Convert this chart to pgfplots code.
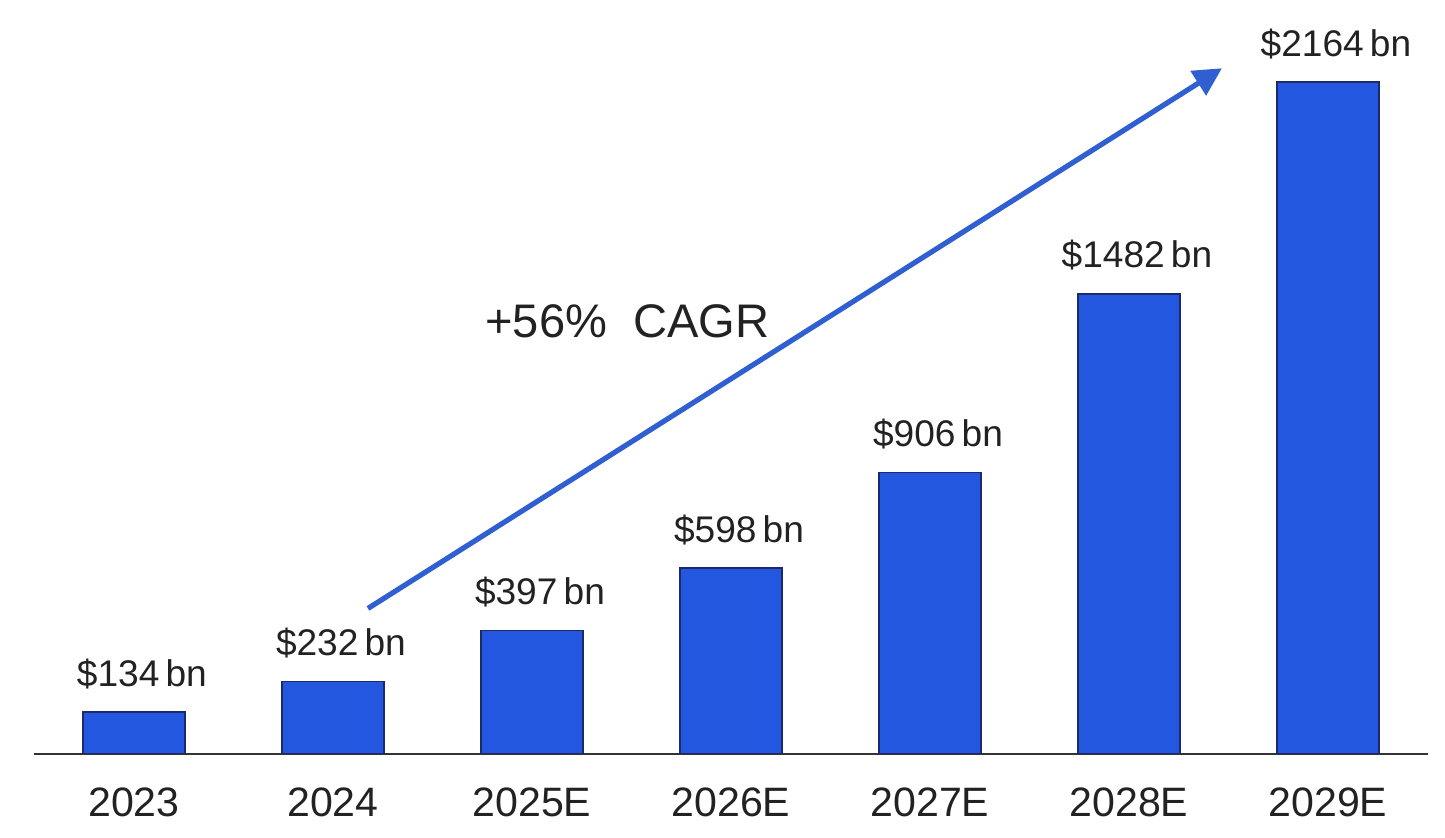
\documentclass[border=0pt]{standalone}
\usepackage{pgfplots}
\pgfplotsset{compat=1.18}
\usepackage{fontspec}
\setmainfont{Liberation Sans}
\usetikzlibrary{arrows.meta}
\definecolor{barblue}{HTML}{2457E0}
\definecolor{baredge}{HTML}{1A2A6A}
\definecolor{arrowblue}{HTML}{2F5FD0}
\definecolor{txt}{HTML}{222222}
\begin{document}
\begin{tikzpicture}
\begin{axis}[
  scale only axis,
  width=695pt, height=376pt,
  xmin=-0.5, xmax=6.5, ymin=0, ymax=2429,
  axis y line=none,
  axis x line*=bottom,
  x axis line style={draw=black!80, line width=1pt, -},
  xtick=data,
  xticklabels={2023,2024,2025E,2026E,2027E,2028E,2029E},
  xtick style={draw=none},
  xticklabel style={font=\fontsize{20.5}{22}\selectfont, text=txt, yshift=-9pt},
  ybar, bar width=51pt,
  clip=false,
  point meta=explicit symbolic,
  nodes near coords={\$\pgfplotspointmeta\,bn},
  nodes near coords style={font=\fontsize{18.5}{20}\selectfont, text=txt, anchor=south, yshift=8pt, xshift=4pt},
]
\addplot[fill=barblue, draw=baredge, line width=0.8pt] table[meta=v] {
x y v
0 134 134
1 232 232
2 397 397
3 598 598
4 906 906
5 1482 1482
6 2164 2164
};
\draw[arrowblue, line width=2.6pt, -{Triangle[length=14pt, width=14pt]}] (axis cs:1.176,468) -- (axis cs:5.467,2209);
\node[font=\fontsize{23.5}{25}\selectfont, text=txt] at (axis cs:2.48,1395) {+56\%\ \ CAGR};
\path (axis cs:-0.673,-271) rectangle (axis cs:6.588,2429);
\end{axis}
\end{tikzpicture}
\end{document}
